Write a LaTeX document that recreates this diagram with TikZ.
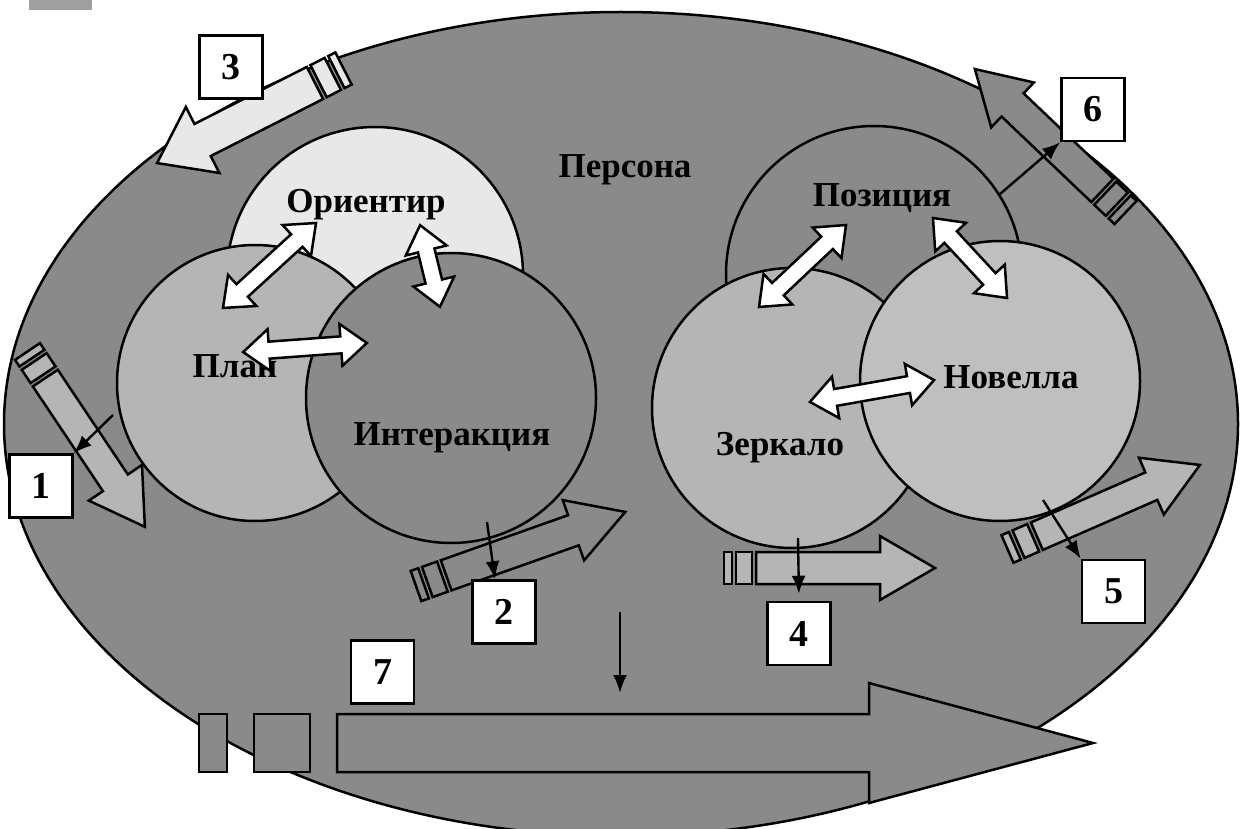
\documentclass[tikz,border=0pt]{standalone}
\usepackage{fontspec}
\setmainfont{Liberation Serif}
\usetikzlibrary{arrows.meta}
\definecolor{persona}{gray}{0.54}
\definecolor{midgray}{gray}{0.71}
\definecolor{lightgray}{gray}{0.91}
\definecolor{novgray}{gray}{0.75}
\tikzset{
  lbl/.style={font=\fontsize{35}{40}\selectfont\bfseries, inner sep=0pt, anchor=base},
  numbox/.style={draw, fill=white, minimum size=63, inner sep=0pt,
    font=\fontsize{38}{40}\selectfont\bfseries},
  pointer/.style={-{Latex[length=18pt,width=14pt]}, line width=2.4pt}
}
% tail, angle, length, shaft half, head half, head length, fill, stripe, gap
\newcommand{\blockarrow}[9]{%
  \begin{scope}[shift={(#1)},rotate=#2]
    \draw[fill=#7] (0,-#4) rectangle (#8,#4);
    \draw[fill=#7] ({#8+#9},-#4) rectangle ({3*#8+#9},#4);
    \draw[fill=#7] ({3*#8+2*#9},-#4) -- ({#3-#6},-#4) -- ({#3-#6},-#5) -- (#3,0)
      -- ({#3-#6},#5) -- ({#3-#6},#4) -- ({3*#8+2*#9},#4) -- cycle;
  \end{scope}}
% middle, angle, length
\newcommand{\dblarrow}[3]{%
  \begin{scope}[shift={(#1)},rotate=#2]
    \pgfmathsetmacro\halflen{#3/2}
    \draw[fill=white] (-\halflen,0) -- ({-\halflen+26},21) -- ({-\halflen+26},8.5)
      -- ({\halflen-26},8.5) -- ({\halflen-26},21) -- (\halflen,0)
      -- ({\halflen-26},-21) -- ({\halflen-26},-8.5) -- ({-\halflen+26},-8.5)
      -- ({-\halflen+26},-21) -- cycle;
  \end{scope}}
\begin{document}
\begin{tikzpicture}[x=1pt,y=-1pt,line width=2.5pt]
  \useasboundingbox (0,0) rectangle (1241,829);
  \clip (0,0) rectangle (1241,829);
  \fill[white] (0,0) rectangle (1241,829);
  \fill[gray!75] (29,0) rectangle (92,10);
  % the persona
  \draw[fill=persona] (621,424) ellipse [x radius=617, y radius=412];
  % circles
  \draw[fill=lightgray] (375,275) circle (148);
  \draw[fill=midgray] (255,383) circle (138);
  \draw[fill=persona] (451,398) circle (145);
  \draw[fill=persona] (874,274) circle (148);
  \draw[fill=midgray] (792,408) circle (140);
  \draw[fill=novgray] (1000,381) circle (140);
  % labels
  \node[lbl] (persona) at (625,178) {Персона};
  \node[lbl] (orient) at (366,212) {Ориентир};
  \node[lbl] (plan) at (235,377) {План};
  \node[lbl] (inter) at (452,445) {Интеракция};
  \node[lbl] (pos) at (882,206) {Позиция};
  \node[lbl] (mirror) at (780,455) {Зеркало};
  \node[lbl] (novel) at (1011,388) {Новелла};
  % white links
  \dblarrow{269.5,265.5}{42.4}{126}
  \dblarrow{430,266}{-76.3}{84}
  \dblarrow{305,347.5}{4.2}{124}
  \dblarrow{802.5,266}{43.3}{119.5}
  \dblarrow{970,258}{-47.2}{109}
  \dblarrow{872,391}{10}{126}
  % numbered arrows
  \blockarrow{27.5,351.5}{-56.2}{211}{15}{32}{53}{midgray}{8}{4}
  \blockarrow{416,586}{19.5}{222}{16}{32}{55}{persona}{8}{4}
  \blockarrow{343.5,68.5}{-153.1}{209}{18}{37}{51}{lightgray}{8}{4}
  \blockarrow{724,568}{0}{211}{16}{32}{55}{midgray}{8}{4}
  \blockarrow{1007.5,549}{23.6}{210}{15}{31}{53}{midgray}{8}{4}
  \blockarrow{1125.5,212.5}{136.4}{208}{16}{31}{52}{persona}{8}{4}
  \blockarrow{199,743}{0}{894}{29}{60}{224}{persona}{28}{27}
  % number boxes
  \node[numbox] (n1) at (41,486) {1};
  \node[numbox] (n2) at (504,612) {2};
  \node[numbox] (n3) at (231,67) {3};
  \node[numbox] (n4) at (799,633.5) {4};
  \node[numbox] (n5) at (1113.5,591.5) {5};
  \node[numbox] (n6) at (1093,109.5) {6};
  \node[numbox] (n7) at (382.5,672) {7};
  % pointers
  \coordinate (s1) at (113,415);
  \coordinate (s2) at (487,522);
  \coordinate (s4) at (798,538);
  \coordinate (s5) at (1043,500);
  \coordinate (s6) at (1000,194);
  \coordinate (s7) at (620,612);
  \coordinate (e7) at (620,693);
  \draw[pointer] (s1) -- (n1.north east);
  \draw[pointer] (s2) -- ([xshift=-9pt]n2.north);
  \draw[pointer, shorten >=7pt] (s4) -- (n4.north);
  \draw[pointer] (s5) -- (n5.north west);
  \draw[pointer] (s6) -- (n6.south west);
  \draw[pointer] (s7) -- (e7);
\end{tikzpicture}
\end{document}
